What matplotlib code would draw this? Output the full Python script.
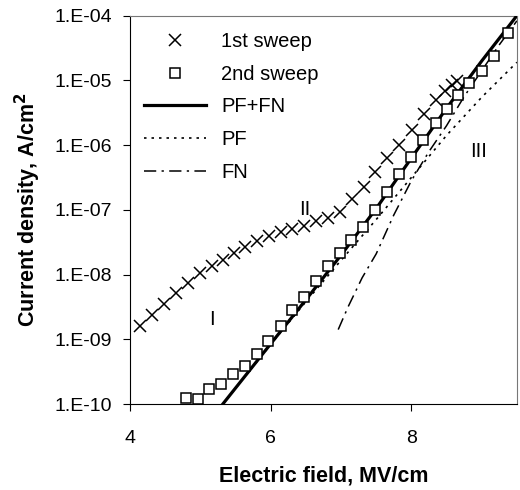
import numpy as np
import matplotlib
matplotlib.use('Agg')
import matplotlib.pyplot as plt
from matplotlib.ticker import FixedLocator, FuncFormatter

plt.rcParams['font.family'] = ['Liberation Sans', 'DejaVu Sans']

# 1st sweep (x markers): field in MV/cm, log10 of current density
sweep1_x = [4.14, 4.31, 4.48, 4.65, 4.82, 4.99, 5.16, 5.32, 5.48, 5.63,
            5.80, 5.97, 6.14, 6.31, 6.48, 6.65, 6.82, 6.98, 7.15, 7.32,
            7.49, 7.66, 7.83, 8.01, 8.18, 8.35, 8.48, 8.58, 8.65]
sweep1_logj = [-8.80, -8.62, -8.45, -8.28, -8.13, -7.97, -7.86, -7.77, -7.66, -7.57,
               -7.48, -7.41, -7.35, -7.29, -7.25, -7.18, -7.12, -7.03, -6.84, -6.64,
               -6.41, -6.20, -6.00, -5.76, -5.52, -5.30, -5.16, -5.07, -5.01]

# 2nd sweep (square markers)
sweep2_x = [4.79, 4.97, 5.13, 5.29, 5.46, 5.63, 5.80, 5.96, 6.14, 6.31,
            6.48, 6.65, 6.81, 6.98, 7.14, 7.31, 7.48, 7.65, 7.83, 8.00,
            8.17, 8.35, 8.50, 8.66, 8.82, 9.01, 9.18, 9.37]
sweep2_logj = [-9.90, -9.93, -9.77, -9.69, -9.53, -9.41, -9.22, -9.03, -8.79, -8.55,
               -8.35, -8.10, -7.86, -7.67, -7.46, -7.26, -7.01, -6.72, -6.45, -6.19,
               -5.92, -5.66, -5.44, -5.22, -5.04, -4.86, -4.63, -4.27]

# fitted curves
pffn_x = [5.32, 6.0, 6.5, 7.0, 7.5, 8.0, 8.5, 9.0, 9.5]
pffn_logj = [-10.0, -9.07, -8.39, -7.70, -6.98, -6.20, -5.43, -4.70, -4.0]

pf_x = [5.32, 6.0, 6.5, 7.0, 7.5, 8.0, 8.5, 9.0, 9.5]
pf_logj = [-10.0, -9.08, -8.42, -7.78, -7.15, -6.50, -5.85, -5.26, -4.72]

fn_x = [6.96, 7.1, 7.3, 7.5, 7.75, 8.0, 8.25, 8.5, 8.75, 9.0, 9.25, 9.5]
fn_logj = [-8.85, -8.50, -8.05, -7.68, -7.08, -6.55, -6.10, -5.70, -5.25, -4.85, -4.45, -4.08]

def pw(v):
  return 10.0 ** np.array(v)

fig = plt.figure(figsize=(5.2, 4.9), dpi=100)
ax = fig.add_axes([0.25, 0.1755, 0.744, 0.7925])

ax.plot(pf_x, pw(pf_logj), color='black', lw=1.2, linestyle=(0, (1.5, 3)),
        label='PF', zorder=2)
ax.plot(fn_x, pw(fn_logj), color='black', lw=1.1, linestyle=(0, (8, 3.5, 1.5, 3.5)),
        label='FN', zorder=2)
ax.plot(pffn_x, pw(pffn_logj), color='black', lw=2.3, label='PF+FN', zorder=3)
ax.plot(sweep1_x, pw(sweep1_logj), linestyle='none', marker='x', ms=8.5, mew=1.1,
        color='black', label='1st sweep', zorder=4)
ax.plot(sweep2_x, pw(sweep2_logj), linestyle='none', marker='s', ms=6.5, mew=1.1,
        mfc='white', mec='black', label='2nd sweep', zorder=5)

ax.set_yscale('log')
ax.set_xlim(4, 9.5)
ax.set_ylim(1e-10, 1e-4)
ax.xaxis.set_major_locator(FixedLocator([4, 6, 8]))
ax.yaxis.set_major_locator(FixedLocator([10.0 ** e for e in range(-10, -3)]))
ax.yaxis.set_minor_locator(FixedLocator([]))
ax.yaxis.set_major_formatter(FuncFormatter(lambda v, p: '1.E-%02d' % round(-np.log10(v))))
ax.tick_params(direction='out', length=5, width=0.8, labelsize=14)
ax.tick_params(axis='x', pad=14)
ax.tick_params(axis='y', pad=8)

for s in ['top', 'right']:
  ax.spines[s].set_color('#777777')
  ax.spines[s].set_linewidth(0.8)
  ax.spines[s].set_linestyle((0, (1, 1)))

ax.text(5.16, pw(-8.70), 'I', fontsize=14.5, ha='center', va='center')
ax.text(6.48, pw(-7.0), 'II', fontsize=14.5, ha='center', va='center')
ax.text(8.96, pw(-6.1), 'III', fontsize=14.5, ha='center', va='center')

handles, labels = ax.get_legend_handles_labels()
order = [3, 4, 2, 0, 1]
ax.legend([handles[i] for i in order], [labels[i] for i in order],
          loc='upper left', bbox_to_anchor=(0.035, 0.958), frameon=False,
          fontsize=14.5, handlelength=3.1, handletextpad=0.75, labelspacing=0.68,
          borderpad=0, borderaxespad=0, numpoints=1)

ax.set_xlabel('Electric field, MV/cm', fontsize=15.5, fontweight='bold', labelpad=13)
ax.set_ylabel('Current density, A/cm$^\\mathbf{2}$', fontsize=15.5, fontweight='bold', labelpad=8)

fig.savefig('out.png', dpi=100)
